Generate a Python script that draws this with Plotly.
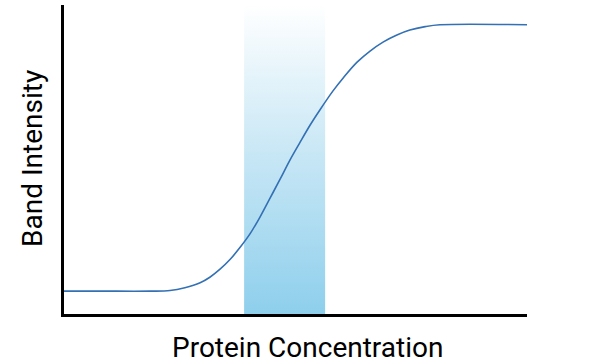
import plotly.graph_objects as go

# Sigmoid curve (x: concentration 0-100, y: intensity 0-100)
concentration = [0, 7.8, 18.6, 22.9, 26.1, 29.4, 31.5, 33.7, 35.9, 38.0, 40.2, 42.3,
                 44.5, 46.7, 48.8, 51.0, 53.1, 55.3, 58.1, 60.3, 63.3, 66.1, 68.9,
                 71.9, 74.7, 78.0, 81.2, 100]
intensity = [7.4, 7.4, 7.4, 7.6, 8.5, 10.1, 11.9, 14.5, 17.7, 21.5, 26.0, 31.3,
             37.5, 43.7, 49.8, 55.6, 61.0, 66.1, 72.2, 76.4, 81.5, 85.1, 88.0,
             90.3, 91.9, 93.0, 93.6, 93.6]

# Shaded linear-range band
band_x = [38.9, 56.4]
band_y = [0, 100]

fig = go.Figure()
fig.add_trace(go.Scatter(
    x=[band_x[0], band_x[1], band_x[1], band_x[0], band_x[0]],
    y=[band_y[0], band_y[0], band_y[1], band_y[1], band_y[0]],
    mode="lines", line=dict(width=0), fill="toself",
    fillgradient=dict(type="vertical", start=band_y[0], stop=band_y[1],
                      colorscale=[[0, "#8ecfec"], [0.5, "#c6e6f5"], [1, "#ffffff"]]),
    hoverinfo="skip", showlegend=False))
fig.add_trace(go.Scatter(
    x=concentration, y=intensity, mode="lines",
    line=dict(color="#3370b4", width=1.6, shape="spline", smoothing=1.0),
    showlegend=False))

axis_common = dict(showline=True, linecolor="black", linewidth=3, showgrid=False,
                   zeroline=False, showticklabels=False, ticks="")
fig.update_xaxes(range=[0, 100], **axis_common)
fig.update_yaxes(range=[0, 100], **axis_common)

fig.update_layout(
    width=608, height=364,
    margin=dict(l=64, r=81, t=5, b=50),
    paper_bgcolor="white", plot_bgcolor="white",
    font=dict(family="Roboto", color="black"),
    annotations=[
        dict(text="Protein Concentration", xref="paper", yref="paper",
             x=0.525, y=-0.107, xanchor="center", yanchor="middle",
             showarrow=False, font=dict(size=28)),
        dict(text="Band Intensity", xref="paper", yref="paper",
             x=-0.067, y=0.505, xanchor="center", yanchor="middle", textangle=-90,
             showarrow=False, font=dict(size=28)),
    ],
)
fig.write_html("out.html")
